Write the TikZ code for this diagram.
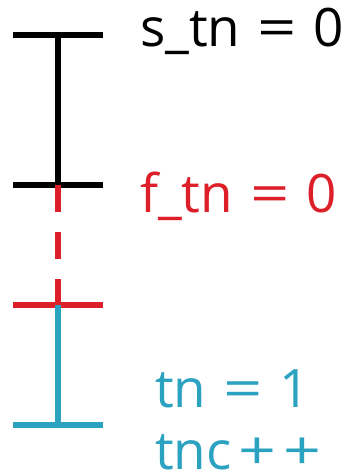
\documentclass[tikz,border=0pt]{standalone}
\usepackage{fontspec}
\usepackage{graphicx}
\setmainfont{Open Sans}
\definecolor{tred}{RGB}{220,31,40}
\definecolor{tcyan}{RGB}{44,162,193}
\newcommand{\wideeq}{\hspace{17pt}\scalebox{1.3}[1]{=}\hspace{17pt}}
\newcommand{\wideplus}{\hspace{7pt}\scalebox{1.25}[1]{+}}
\begin{document}
\begin{tikzpicture}[x=1pt,y=-1pt,
  bar/.style={line width=6.5pt},
  lbl/.style={anchor=base west,inner sep=0pt,text depth=0pt,font=\fontsize{53}{60}\selectfont}]
\useasboundingbox (0,0) rectangle (357,476);
% coordinates
\coordinate (a1) at (13,35);  \coordinate (a2) at (103,35);  \coordinate (ac) at (58,35);
\coordinate (b1) at (13,185); \coordinate (b2) at (103,185); \coordinate (bc) at (58,185);
\coordinate (c1) at (13,305); \coordinate (c2) at (103,305); \coordinate (cc) at (58,305);
\coordinate (d1) at (13,425); \coordinate (d2) at (103,425); \coordinate (dc) at (58,425);
% black
\draw[bar,black] (a1) -- (a2);
\draw[bar,black] (b1) -- (b2);
\draw[bar,black] (ac) -- (bc);
% red
\draw[bar,tred] (c1) -- (c2);
\draw[bar,tred,dash pattern=on 27pt off 20pt] (bc) -- (cc);
% cyan
\draw[bar,tcyan] (d1) -- (d2);
\draw[bar,tcyan] (cc) -- (dc);
% labels
\node[lbl,text=black] (ls) at (140,47) {s\_tn\wideeq 0};
\node[lbl,text=tred] (lf) at (140,212) {f\_tn\wideeq 0};
\node[lbl,text=tcyan] (lt) at (155,407) {tn\wideeq 1};
\node[lbl,text=tcyan] (lc) at (155,469) {tnc\wideplus\wideplus};
\end{tikzpicture}
\end{document}
